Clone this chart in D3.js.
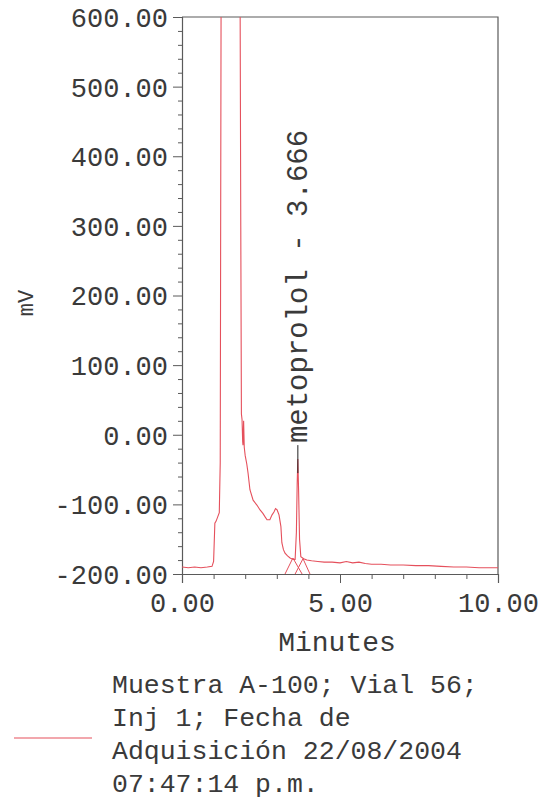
<!DOCTYPE html>
<html>
<head>
<meta charset="utf-8">
<script src="https://cdn.jsdelivr.net/npm/d3@7"></script>
<style>
  html, body { margin: 0; padding: 0; background: #fff; }
  svg text { font-family: "Liberation Mono", "DejaVu Sans Mono", monospace; fill: #3a3a3a; }
</style>
</head>
<body>
<svg id="chart" width="551" height="801"></svg>
<script>
// ---- data ----
const yTickValues = [-200, -100, 0, 100, 200, 300, 400, 500, 600];
const yTickLabels = ["-200.00", "-100.00", "0.00", "100.00", "200.00", "300.00", "400.00", "500.00", "600.00"];
const xTickValues = [0, 5, 10];
const xTickLabels = ["0.00", "5.00", "10.00"];

// time (min)
const traceTime = [0.00, 0.20, 0.40, 0.60, 0.80, 0.95, 1.00, 1.04, 1.08, 1.13, 1.18, 1.21, 1.24, 1.30, 1.50, 1.70, 1.83, 1.86, 1.88, 1.90, 1.92, 1.93, 1.95, 1.97, 2.00, 2.05, 2.09, 2.15, 2.25, 2.37, 2.47, 2.56, 2.63, 2.69, 2.78, 2.85, 2.91, 2.96, 3.01, 3.07, 3.13, 3.16, 3.21, 3.26, 3.34, 3.42, 3.52, 3.58, 3.62, 3.645, 3.666, 3.69, 3.72, 3.76, 3.85, 3.95, 4.10, 4.30, 4.50, 4.75, 5.00, 5.20, 5.40, 5.60, 5.80, 6.00, 6.30, 6.60, 7.00, 7.40, 7.80, 8.20, 8.60, 9.00, 9.40, 9.70, 10.00];
// signal (mV)
const traceSignal = [-190, -191, -190, -191, -190, -189, -182, -127, -124, -118, -112, -40, 700, 950, 1150, 1000, 760, 300, 30, 22, -10, -15, 20, -18, -30, -42, -55, -79, -94, -101, -108, -113, -118, -122, -122, -115, -111, -106, -108, -115, -132, -155, -165, -170, -174, -177, -179, -179, -140, -70, -35, -80, -150, -175, -178, -180, -181, -182, -183, -183, -184, -182, -184, -183, -185, -186, -186, -187, -187, -188, -188, -189, -190, -190, -191, -191, -191];

// dropped integration baselines (peak boundaries)
const boundA_time = [3.26, 3.51, 3.80];
const boundA_signal = [-200, -177, -200];
const boundB_time = [3.58, 3.83, 4.05];
const boundB_signal = [-200, -178, -200];

const peakName = "metoprolol - 3.666";
const peakTime = 3.666;
const peakSignal = -35;

const legendLines = ["Muestra A-100; Vial 56;", "Inj 1; Fecha de", "Adquisición 22/08/2004", "07:47:14 p.m."];

// ---- drawing ----
const svg = d3.select("#chart");
const L = 182, R = 498, T = 17, B = 574;
const x = d3.scaleLinear().domain([0, 10]).range([L, R]);
const y = d3.scaleLinear().domain([-200, 600]).range([B, T]);
const red = "#e5505c";
const axisColor = "#5a5a5a";

svg.append("defs").append("clipPath").attr("id", "plotclip")
  .append("rect").attr("x", L).attr("y", T).attr("width", R - L).attr("height", B - T);

// frame (top and right)
svg.append("path")
  .attr("d", `M${L},${T}H${R}V${B}`)
  .attr("fill", "none").attr("stroke", axisColor).attr("stroke-width", 1.2);

// y axis minor
const yMinor = d3.range(-200, 601, 20).filter(v => v % 100 !== 0);
svg.append("g").attr("transform", `translate(${L},0)`)
  .call(d3.axisLeft(y).tickValues(yMinor).tickSize(4).tickFormat(""))
  .call(g => g.select(".domain").remove())
  .call(g => g.selectAll("line").attr("stroke", axisColor));
// y axis major
svg.append("g").attr("transform", `translate(${L},0)`)
  .call(d3.axisLeft(y).tickValues(yTickValues).tickSize(9).tickPadding(5)
    .tickFormat((d, i) => yTickLabels[i]))
  .call(g => g.select(".domain").attr("stroke", axisColor).attr("stroke-width", 1.2))
  .call(g => g.selectAll("line").attr("stroke", axisColor))
  .call(g => g.selectAll("text").attr("font-size", 27).attr("dy", "0.35em")
    .style("font-family", "'Liberation Mono', monospace").attr("fill", "#3a3a3a"));

// x axis minor
const xMinor = d3.range(1, 10).filter(v => v % 5 !== 0);
svg.append("g").attr("transform", `translate(0,${B})`)
  .call(d3.axisBottom(x).tickValues(xMinor).tickSize(5).tickFormat(""))
  .call(g => g.select(".domain").remove())
  .call(g => g.selectAll("line").attr("stroke", axisColor));
// x axis major
svg.append("g").attr("transform", `translate(0,${B})`)
  .call(d3.axisBottom(x).tickValues(xTickValues).tickSize(9).tickPadding(10)
    .tickFormat((d, i) => xTickLabels[i]))
  .call(g => g.select(".domain").attr("stroke", axisColor).attr("stroke-width", 1.2))
  .call(g => g.selectAll("line").attr("stroke", axisColor))
  .call(g => g.selectAll("text").attr("font-size", 27)
    .style("font-family", "'Liberation Mono', monospace").attr("fill", "#3a3a3a"));

// axis titles
svg.append("text").attr("x", 337).attr("y", 651).attr("text-anchor", "middle")
  .attr("font-size", 28).text("Minutes");
svg.append("text").attr("transform", `translate(33,303) rotate(-90)`)
  .attr("text-anchor", "middle").attr("font-size", 22).text("mV");

// trace
const line = d3.line().x(d => x(d[0])).y(d => y(d[1]));
const plot = svg.append("g").attr("clip-path", "url(#plotclip)");
plot.append("path").datum(d3.zip(traceTime, traceSignal))
  .attr("d", line).attr("fill", "none").attr("stroke", red).attr("stroke-width", 1.1);
plot.append("path").datum(d3.zip(boundA_time, boundA_signal))
  .attr("d", line).attr("fill", "none").attr("stroke", red).attr("stroke-width", 1);
plot.append("path").datum(d3.zip(boundB_time, boundB_signal))
  .attr("d", line).attr("fill", "none").attr("stroke", red).attr("stroke-width", 1);

// peak label
svg.append("line")
  .attr("x1", x(peakTime)).attr("x2", x(peakTime))
  .attr("y1", y(peakSignal) - 14).attr("y2", y(peakSignal) + 14)
  .attr("stroke", "#222").attr("stroke-width", 1);
svg.append("text")
  .attr("transform", `translate(${x(peakTime) + 9},${y(peakSignal) - 16}) rotate(-90)`)
  .attr("text-anchor", "start").attr("font-size", 29).text(peakName);

// legend
svg.append("line").attr("x1", 14).attr("x2", 92).attr("y1", 738).attr("y2", 738)
  .attr("stroke", red).attr("stroke-width", 1.2);
svg.append("g").selectAll("text").data(legendLines).join("text")
  .attr("x", 112).attr("y", (d, i) => 693 + i * 33)
  .attr("font-size", 26.5).text(d => d);
</script>
</body>
</html>
